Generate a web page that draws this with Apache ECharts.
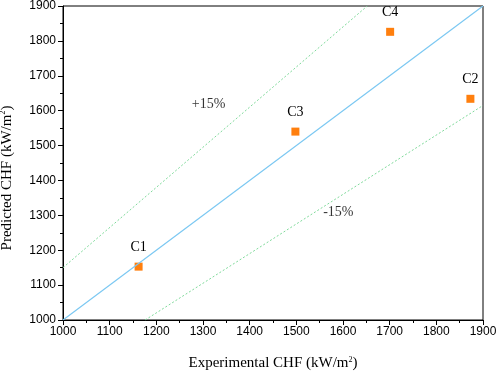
<!DOCTYPE html>
<html>
<head>
<meta charset="utf-8">
<script src="https://cdn.jsdelivr.net/npm/echarts@6/dist/echarts.min.js"></script>
<style>
  html, body { margin: 0; padding: 0; background: #fff; }
  #chart { width: 498px; height: 372px; }
</style>
</head>
<body>
<div id="chart"></div>
<script>
// cases: experimental vs predicted CHF
var caseNames = ['C1', 'C2', 'C3', 'C4'];
var experimental = [1162, 1873, 1498, 1701];
var predicted = [1153, 1634, 1540, 1826];

// reference lines (endpoints)
var perfectLine = [[1000, 1000], [1900, 1900]];
var plus15Line = [[1000, 1150], [1652, 1900]];
var minus15Line = [[1176, 1000], [1900, 1615]];

// band labels
var bandLabels = [['+15%', 1312, 1618], ['-15%', 1590, 1310]];

var xTicks = [1000, 1100, 1200, 1300, 1400, 1500, 1600, 1700, 1800, 1900];

var chart = echarts.init(document.getElementById('chart'));

var points = caseNames.map(function (n, i) {
    return { name: n, value: [experimental[i], predicted[i]] };
});

var serif = '"Liberation Serif", "Times New Roman", serif';
var sans = '"Liberation Sans", Arial, sans-serif';

var supStyle = { fontFamily: serif, fontSize: 8, verticalAlign: 'top', lineHeight: 10, padding: [0, 0, 11, 0], color: '#000' };

var plain = function (v) { return String(v); };

var option = {
    animation: false,
    grid: {
        left: 63,
        right: 15,
        top: 6,
        bottom: 52,
        containLabel: false,
        outerBoundsMode: 'none',
        show: true,
        borderColor: '#000',
        borderWidth: 1
    },
    xAxis: {
        type: 'value',
        min: xTicks[0],
        max: xTicks[xTicks.length - 1],
        interval: 100,
        name: 'Experimental CHF (kW/m{sup|2})',
        nameLocation: 'middle',
        nameGap: 36,
        nameTextStyle: {
            fontFamily: serif,
            fontSize: 15,
            color: '#000',
            rich: { sup: supStyle }
        },
        axisLine: { lineStyle: { color: '#000', width: 1 } },
        axisTick: { length: 5, lineStyle: { color: '#000' } },
        minorTick: { show: true, splitNumber: 2, length: 3, lineStyle: { color: '#000' } },
        axisLabel: { fontFamily: sans, fontSize: 12, color: '#000', margin: 6, formatter: plain },
        splitLine: { show: false }
    },
    yAxis: {
        type: 'value',
        min: 1000,
        max: 1900,
        interval: 100,
        name: 'Predicted CHF (kW/m{sup|2})',
        nameLocation: 'middle',
        nameGap: 40,
        nameTextStyle: {
            fontFamily: serif,
            fontSize: 15,
            color: '#000',
            padding: [0, 30, 0, 0],
            rich: { sup: supStyle }
        },
        axisLine: { lineStyle: { color: '#000', width: 1 } },
        axisTick: { length: 5, lineStyle: { color: '#000' } },
        minorTick: { show: true, splitNumber: 2, length: 3, lineStyle: { color: '#000' } },
        axisLabel: { fontFamily: sans, fontSize: 12, color: '#000', margin: 7, formatter: plain },
        splitLine: { show: false }
    },
    series: [
        {
            type: 'line',
            data: perfectLine,
            symbol: 'none',
            silent: true,
            lineStyle: { color: '#7cc8f2', width: 1.2 }
        },
        {
            type: 'line',
            data: plus15Line,
            symbol: 'none',
            silent: true,
            lineStyle: { color: '#7fd99a', width: 1, type: [2, 2] }
        },
        {
            type: 'line',
            data: minus15Line,
            symbol: 'none',
            silent: true,
            lineStyle: { color: '#7fd99a', width: 1, type: [2, 2] }
        },
        {
            type: 'scatter',
            data: points,
            symbol: 'rect',
            symbolSize: 8,
            itemStyle: { color: '#ff7f0e', opacity: 1 },
            label: {
                show: true,
                position: 'top',
                distance: 8,
                formatter: '{b}',
                fontFamily: serif,
                fontSize: 14,
                color: '#000'
            }
        },
        {
            type: 'scatter',
            data: bandLabels.map(function (b) { return { name: b[0], value: [b[1], b[2]] }; }),
            symbolSize: 0,
            silent: true,
            label: {
                show: true,
                position: 'inside',
                formatter: '{b}',
                fontFamily: serif,
                fontSize: 14,
                color: '#000'
            }
        }
    ]
};

chart.setOption(option);
</script>
</body>
</html>
